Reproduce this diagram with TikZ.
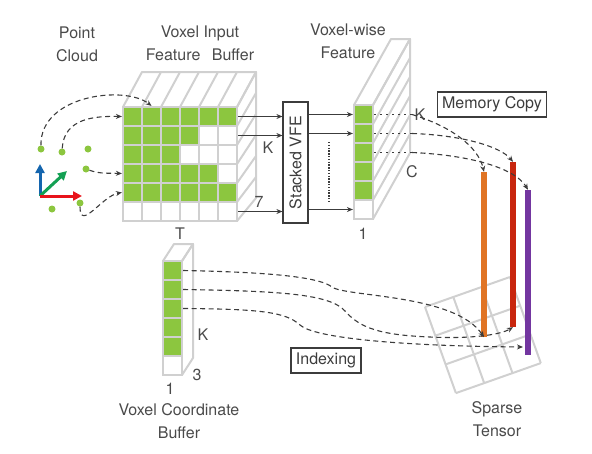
\documentclass[tikz,border=0pt]{standalone}
\usepackage{fontspec}
\setmainfont{TeX Gyre Heros}
\usepackage{graphicx}
\usepackage{tikz}
\usetikzlibrary{arrows.meta, calc}

\definecolor{vgreen}{HTML}{8CC63F}
\definecolor{gridgray}{HTML}{D0D0D0}
\definecolor{txtgray}{HTML}{4A4A4A}
\definecolor{linegray}{HTML}{3C3C3C}
\definecolor{barorange}{HTML}{E07424}
\definecolor{barred}{HTML}{C8260E}
\definecolor{barpurple}{HTML}{7336A0}
\definecolor{axblue}{HTML}{1465AE}
\definecolor{axgreen}{HTML}{13A053}
\definecolor{axred}{HTML}{E8131B}

\begin{document}
\begin{tikzpicture}[
  x=1pt, y=-1pt,
  font=\fontsize{16}{23}\selectfont,
  every node/.style={text=txtgray},
  lbl/.style={align=center, inner sep=0pt},
  cell/.style={draw=gridgray, line width=2.2pt, minimum size=19pt, inner sep=0pt},
  face/.style={draw=gridgray, line width=2pt, line join=round},
  tagbox/.style={draw=linegray, line width=1.2pt, inner xsep=5pt, inner ysep=2pt, minimum height=25pt, text=linegray},
  bar/.style={inner sep=0pt, minimum width=6pt, minimum height=165pt},
  dot/.style={circle, fill=vgreen, inner sep=0pt, minimum size=7pt},
  axis/.style={line width=3pt, -{Triangle[length=9pt, width=9pt]}},
  solidarrow/.style={draw=linegray, line width=1.1pt, -{Stealth[length=6pt, width=5pt]}},
  dasharrow/.style={draw=linegray, line width=1.1pt, dash pattern=on 5pt off 3.5pt, -{Stealth[length=6pt, width=5pt]}},
  dotline/.style={draw=linegray, line width=1.1pt, dash pattern=on 2pt off 4pt}
]
\useasboundingbox (0,0) rectangle (592,453);

% Titles
\node[lbl] (pc-lbl) at (77,44) {Point\\Cloud};
\node[lbl] (vi-lbl) at (200,43) {Voxel Input\\Feature\hspace{7pt} Buffer};
\node[lbl] (vw-lbl) at (348,41) {Voxel-wise\\Feature};
\node[lbl] (vc-lbl) at (179,421) {Voxel Coordinate\\Buffer};
\node[lbl] (st-lbl) at (497,419) {Sparse\\Tensor};

% Voxel input feature buffer
\draw[face] (123,107) -- (142,72) -- (256,72) -- (237,107);
\draw[face] (237,107) -- (256,72) -- (256,198) -- (237,221);
\foreach \k in {1,...,5}
  \draw[face] (123+19*\k,107) -- (142+19*\k,72);
\foreach \k in {1,...,5}
  \draw[face] (237,107+19*\k) -- (256,72+21*\k);
\foreach \r/\n in {1/6,2/4,3/3,4/5,5/6,6/0}
  \foreach \c in {1,...,6} {
    \ifnum\c>\n \def\cf{white}\else\def\cf{vgreen}\fi
    \node[cell, fill=\cf] (in-\r-\c) at (113.5+19*\c, 97.5+19*\r) {};
  }
\node[lbl] (in-k-lbl) at (268,148) {K};
\node[lbl] (in-7-lbl) at (259,202) {7};
\node[lbl] (in-t-lbl) at (180,234) {T};

% Stacked VFE
\node[draw=linegray, line width=1.2pt, minimum width=25pt, minimum height=121pt, inner sep=0pt] (vfe) at (295.5,162.5) {\rotatebox{90}{\color{linegray}Stacked VFE}};
\draw[linegray, line width=1.6pt, dash pattern=on 1.4pt off 1.4pt] (329,142) -- (329,203);

% Voxel-wise feature
\draw[face] (354,105) -- (391,39) -- (410,39) -- (373,105);
\draw[face] (373,105) -- (410,39) -- (410,153) -- (373,219);
\foreach \k in {1,...,5}
  \draw[face] (373,105+19*\k) -- (410,39+19*\k);
\foreach \r in {1,...,6} {
  \ifnum\r>5 \def\cf{white}\else\def\cf{vgreen}\fi
  \node[cell, fill=\cf] (fw-\r) at (363.5, 95.5+19*\r) {};
}
\node[lbl] (fw-k-lbl) at (420,115) {K};
\node[lbl] (fw-c-lbl) at (412,172) {C};
\node[lbl] (fw-one-lbl) at (363,234) {1};

% Voxel coordinate buffer
\draw[face] (163,261) -- (174,244) -- (193,244) -- (182,261);
\draw[face] (182,261) -- (193,244) -- (193,358) -- (182,375);
\foreach \r in {1,...,6} {
  \ifnum\r>5 \def\cf{white}\else\def\cf{vgreen}\fi
  \node[cell, fill=\cf] (cb-\r) at (172.5, 251.5+19*\r) {};
}
\node[lbl] (cb-k-lbl) at (203,335) {K};
\node[lbl] (cb-three-lbl) at (197,375) {3};
\node[lbl] (cb-one-lbl) at (170,389) {1};

% Sparse tensor grid
\begin{scope}[shift={(425,307)}, x={(28.3pt,10pt)}, y={(10.3pt,-28.7pt)}]
  \foreach \i in {0,...,3} {
    \draw[face] (0,\i) -- (3,\i);
    \draw[face] (\i,0) -- (\i,3);
  }
\end{scope}

% Memory bars
\node[bar, fill=barorange] (orange) at (484,254.5) {};
\node[bar, fill=barred] (red) at (513,244.5) {};
\node[bar, fill=barpurple] (purple) at (528,272.5) {};
\coordinate (pin) at (523,347);

\node[tagbox] (memcopy) at (492,104.5) {Memory Copy};
\node[tagbox] (indexing) at (326,360.5) {Indexing};

% Point cloud
\node[dot] (p1) at (41,149) {};
\node[dot] (p2) at (62,152) {};
\node[dot] (p3) at (88,149) {};
\node[dot] (p4) at (86,169) {};
\node[dot] (p5) at (80,203) {};
\node[dot] (p6) at (52,209) {};
\coordinate (ax-o) at (40,196);
\coordinate (ax-z) at (40,164);
\coordinate (ax-x) at (82,196);
\coordinate (ax-y) at (67,171);
\draw[axis, axblue] (ax-o) -- (ax-z);
\draw[axis, axgreen] (ax-o) -- (ax-y);
\draw[axis, axred] (ax-o) -- (ax-x);

% Points to voxels
\draw[dasharrow] (p1) .. controls (40,95) and (125,85) .. (in-1-2.north);
\draw[dasharrow] (p2) .. controls (64,118) and (95,116) .. (in-1-1.west);
\draw[dasharrow] (p4) .. controls (100,174) and (108,173) .. (in-4-1.west);
\draw[dasharrow] (p5) .. controls (80,232) and (102,196) .. (in-5-1.west);

% Into stacked VFE
\draw[solidarrow] (in-1-6.east) -- (vfe.west |- in-1-6.east);
\draw[solidarrow] (in-2-6.east) -- (vfe.west |- in-2-6.east);
\draw[solidarrow] (in-6-6.east) -- (vfe.west |- in-6-6.east);
\draw[solidarrow] (vfe.east |- fw-1.west) -- (fw-1.west);
\draw[solidarrow] (vfe.east |- fw-2.west) -- (fw-2.west);
\draw[solidarrow] (vfe.east |- fw-6.west) -- (fw-6.west);

% Memory copy
\coordinate (mc-1) at (412,114.5);
\coordinate (mc-2) at (412,133.5);
\coordinate (mc-3) at (412,152.5);
\draw[dotline] (fw-1.east) -- (mc-1);
\draw[dotline] (fw-2.east) -- (mc-2);
\draw[dotline] (fw-3.east) -- (mc-3);
\draw[dasharrow] (mc-1) .. controls (450,126) and (478,146) .. (orange.north);
\draw[dasharrow] (mc-2) .. controls (460,135) and (500,146) .. (red.north);
\draw[dasharrow] (mc-3) .. controls (470,155) and (515,168) .. (purple.north);

% Indexing
\draw[dasharrow] (cb-1.east) .. controls (260,272) and (318,276) .. (332,287)
  .. controls (346,297) and (455,294) .. (orange.south);
\draw[dasharrow] (cb-2.east) .. controls (280,291) and (330,294) .. (345,311)
  .. controls (360,328) and (380,335) .. (430,337)
  .. controls (470,339) and (500,335) .. (red.south);
\draw[dasharrow] (cb-3.east) .. controls (260,309) and (286,312) .. (300,325)
  .. controls (314,338) and (400,346) .. (pin);

\end{tikzpicture}
\end{document}
